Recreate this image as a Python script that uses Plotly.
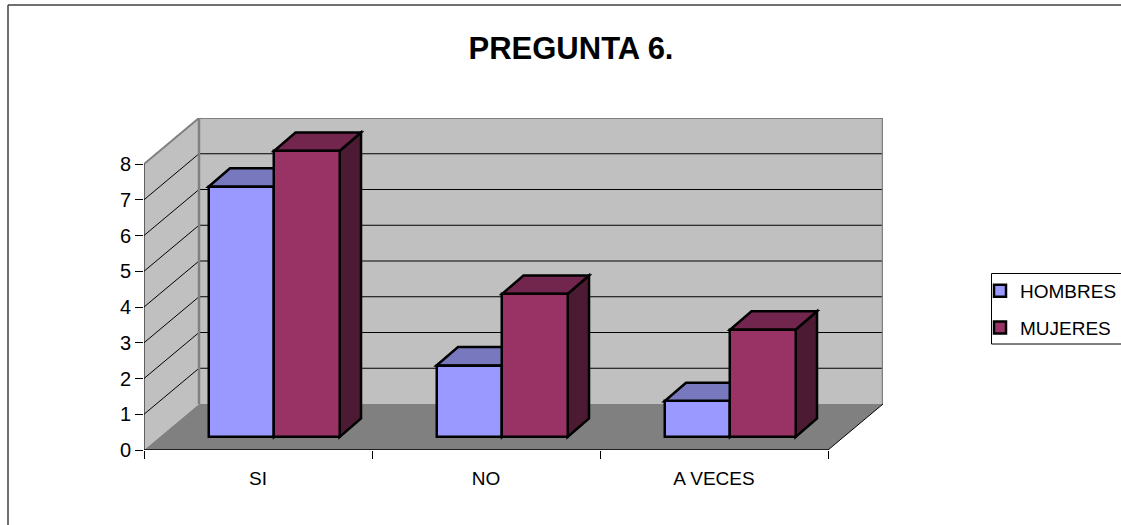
import plotly.graph_objects as go

categories = ["SI", "NO", "A VECES"]
hombres = [7, 2, 1]
mujeres = [8, 4, 3]
y_ticks = [0, 1, 2, 3, 4, 5, 6, 7, 8]
title_text = "PREGUNTA 6."

# 3-D projection of the old spreadsheet look, in axis units
PX_X = 228.0      # pixels per category
PX_Y = 35.75      # pixels per value unit
WALL_DX = 55 / PX_X
WALL_DY = 46 / PX_Y
BAR_DX = 21.5 / PX_X
BAR_DY = 18.5 / PX_Y
LIFT_X = 16 / PX_X
LIFT_Y = 13 / PX_Y
BAR_W = 65.5 / PX_X
N = len(categories)
L, T, R, B = 144, 118, 883, 450
X_MAX = (R - L) / PX_X
Y_MAX = (B - T) / PX_Y

WALL = "#C0C0C0"
FLOOR = "#808080"
EDGE = "#808080"
H_COL, H_TOP, H_SIDE = "#9999FF", "#7878BE", "#4D4D80"
M_COL, M_TOP, M_SIDE = "#993366", "#73264D", "#4D1A33"


def poly(points, fill, line=None, width=0):
    d = "M" + " L".join(f"{x:.4f},{y:.4f}" for x, y in points) + " Z"
    return dict(type="path", path=d, xref="x", yref="y", layer="below", fillcolor=fill,
                line=dict(color=line or fill, width=width))


def seg(x0, y0, x1, y1, color="#000000", width=1):
    return dict(type="line", x0=x0, y0=y0, x1=x1, y1=y1, xref="x", yref="y", layer="below",
                line=dict(color=color, width=width))


shapes = []
# left wall, back wall, floor
shapes.append(poly([(0, 0), (WALL_DX, WALL_DY), (WALL_DX, WALL_DY + 8), (0, 8)], WALL))
shapes.append(poly([(WALL_DX, WALL_DY), (WALL_DX + N, WALL_DY), (WALL_DX + N, WALL_DY + 8), (WALL_DX, WALL_DY + 8)], WALL))
shapes.append(poly([(0, 0), (N, 0), (N + WALL_DX, WALL_DY), (WALL_DX, WALL_DY)], FLOOR))
# gridlines on both walls
for v in y_ticks[1:-1]:
    shapes.append(seg(0, v, WALL_DX, v + WALL_DY))
    shapes.append(seg(WALL_DX, v + WALL_DY, WALL_DX + N, v + WALL_DY))
# wall outlines
shapes.append(seg(0, 8, WALL_DX, 8 + WALL_DY, EDGE, 2))
shapes.append(seg(WALL_DX, 8 + WALL_DY, WALL_DX + N, 8 + WALL_DY, EDGE, 2))
shapes.append(seg(WALL_DX, WALL_DY, WALL_DX, 8 + WALL_DY, EDGE, 2.5))
shapes.append(seg(WALL_DX + N, WALL_DY, WALL_DX + N, 8 + WALL_DY, EDGE, 2.5))
# axis lines
shapes.append(seg(0, 0, 0, 8, "#000000", 1))
shapes.append(seg(0, 0, N, 0, "#000000", 1.5))
shapes.append(seg(N, 0, N + WALL_DX, WALL_DY, "#000000", 1))

# top and side faces of the columns
centres = [i + 0.5 + LIFT_X for i in range(N)]
h_x = [c - BAR_W / 2 for c in centres]
m_x = [c + BAR_W / 2 for c in centres]
for xs, vals, top, side in ((h_x, hombres, H_TOP, H_SIDE), (m_x, mujeres, M_TOP, M_SIDE)):
    for x, v in zip(xs, vals):
        x0, x1 = x - BAR_W / 2, x + BAR_W / 2
        y0, y1 = LIFT_Y, LIFT_Y + v
        shapes.append(poly([(x1, y0), (x1 + BAR_DX, y0 + BAR_DY), (x1 + BAR_DX, y1 + BAR_DY), (x1, y1)], side, "#000000", 2.5))
        shapes.append(poly([(x0, y1), (x1, y1), (x1 + BAR_DX, y1 + BAR_DY), (x0 + BAR_DX, y1 + BAR_DY)], top, "#000000", 2.5))

fig = go.Figure()
fig.add_trace(go.Bar(name="HOMBRES", x=h_x, y=hombres, base=LIFT_Y, width=BAR_W, legendgroup="h",
                     marker=dict(color=H_COL, line=dict(color="#000000", width=2.5))))
fig.add_trace(go.Bar(name="MUJERES", x=m_x, y=mujeres, base=LIFT_Y, width=BAR_W, legendgroup="m",
                     marker=dict(color=M_COL, line=dict(color="#000000", width=2.5))))


def px_x(p):
    return (p - L) / (R - L)


def px_y(p):
    return (B - p) / (B - T)


# chart frame and legend box, in page pixels
for (a, b, c, d, col, w) in ((8, 5, 1121, 5, "#404040", 1.5), (8, 5, 8, 525, "#404040", 1.5)):
    shapes.append(dict(type="line", xref="paper", yref="paper", x0=px_x(a), y0=px_y(b), x1=px_x(c), y1=px_y(d),
                       line=dict(color=col, width=w)))
shapes.append(dict(type="rect", xref="paper", yref="paper", x0=px_x(991.5), y0=px_y(273.5), x1=px_x(1125), y1=px_y(344),
                   line=dict(color="#000000", width=1)))

fig.update_layout(
    width=1121, height=525, autosize=False,
    margin=dict(l=L, r=1121 - R, t=T, b=525 - B, pad=0, autoexpand=False),
    paper_bgcolor="#FFFFFF", plot_bgcolor="rgba(0,0,0,0)",
    font=dict(family="Liberation Sans, Arial, sans-serif", size=19, color="#000000"),
    barmode="overlay", bargap=0, shapes=shapes,
    title=dict(text="<b>" + title_text + "</b>", font=dict(size=31), x=px_x(571), xref="paper", xanchor="center",
               y=1 - 48 / 525, yref="container", yanchor="middle"),
    xaxis=dict(range=[0, X_MAX], tickmode="array", tickvals=[i + 0.5 for i in range(N)], ticktext=categories,
               ticks="", ticklabelstandoff=15, showgrid=False, zeroline=False, showline=False,
               tickfont=dict(size=19),
               minor=dict(tickmode="array", tickvals=list(range(N + 1)), ticks="outside", ticklen=8, tickcolor="#000000",
                          tickwidth=1, showgrid=False)),
    yaxis=dict(range=[0, Y_MAX], tickmode="array", tickvals=y_ticks, ticks="outside", ticklen=8, tickcolor="#000000",
               tickwidth=1, showgrid=False, zeroline=False, showline=False, tickfont=dict(size=20)),
    legend=dict(x=px_x(980), xanchor="left", y=px_y(272), yanchor="top", bgcolor="rgba(0,0,0,0)", borderwidth=0,
                tracegroupgap=9, entrywidth=70, font=dict(size=19)),
)

fig.write_html("out.html", config={"displayModeBar": False},
               post_script="document.body.style.margin='0';document.body.style.overflow='hidden';")
